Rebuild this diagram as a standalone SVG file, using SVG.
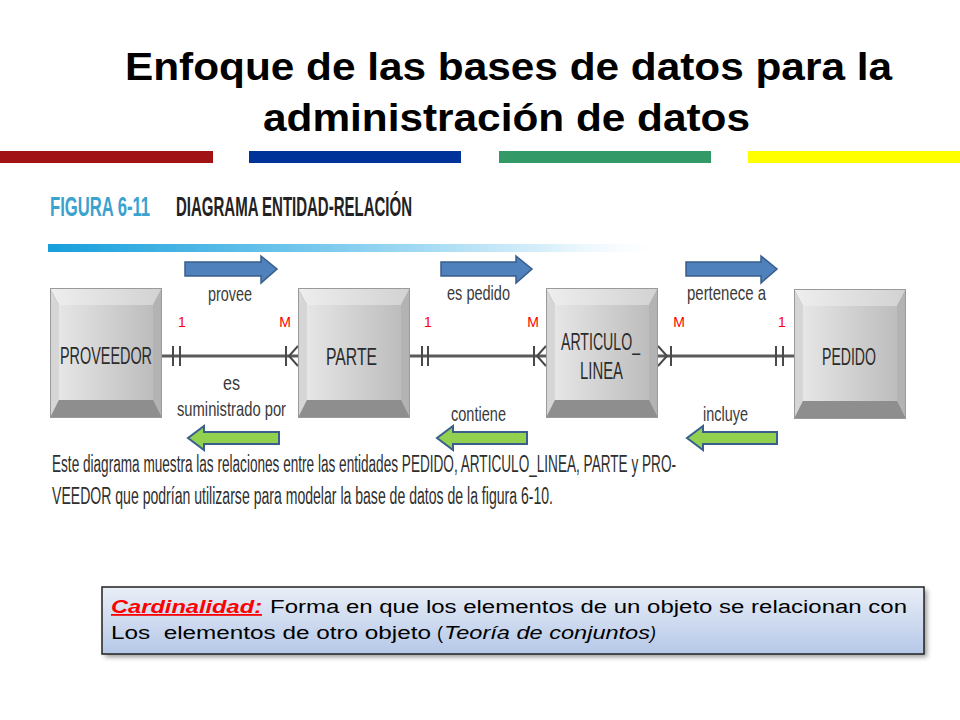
<svg xmlns="http://www.w3.org/2000/svg" xmlns:xlink="http://www.w3.org/1999/xlink" width="960" height="720" viewBox="0 0 960 720">
  <style>
    .title { font-family: "Liberation Sans", Arial, sans-serif; font-weight: bold; font-size: 39px; fill: #000; }
    .ent { font-family: "Liberation Sans", Arial, sans-serif; font-size: 23px; fill: #2b2b2b; }
    .rel { font-family: "Liberation Sans", Arial, sans-serif; font-size: 21px; fill: #3a3a3a; }
    .card { font-family: "Liberation Sans", Arial, sans-serif; font-size: 14px; fill: #ff0000; text-anchor: middle; }
    .cap { font-family: "Liberation Sans", Arial, sans-serif; font-size: 23px; fill: #2e2e2e; }
    .hdr { font-family: "Liberation Sans", Arial, sans-serif; font-weight: bold; font-size: 27px; }
    .box { font-family: "Liberation Sans", Arial, sans-serif; font-size: 18px; fill: #000; }
    .conn { stroke: #5a5a5a; stroke-width: 3; fill: none; }
    .tick { stroke: #4a4a4a; stroke-width: 2; fill: none; }
    .barrow { fill: #4f81bd; stroke: #385d8a; stroke-width: 1.5; }
    .garrow { fill: #92d050; stroke: #3a5f8e; stroke-width: 2; }
  </style>
  <defs>
    <linearGradient id="face" x1="0" y1="0" x2="1" y2="0">
      <stop offset="0" stop-color="#e6e6e6"/>
      <stop offset="1" stop-color="#bdbdbd"/>
    </linearGradient>
    <linearGradient id="topbev" x1="0" y1="0" x2="1" y2="0">
      <stop offset="0" stop-color="#eeeeee"/>
      <stop offset="1" stop-color="#d2d2d2"/>
    </linearGradient>
    <linearGradient id="cyanbar" x1="0" y1="0" x2="1" y2="0">
      <stop offset="0" stop-color="#169fdb"/>
      <stop offset="0.45" stop-color="#7ccbee"/>
      <stop offset="0.8" stop-color="#d9f0fa"/>
      <stop offset="1" stop-color="#ffffff" stop-opacity="0"/>
    </linearGradient>
    <linearGradient id="boxgrad" x1="0" y1="0" x2="0" y2="1">
      <stop offset="0" stop-color="#e9eef7"/>
      <stop offset="1" stop-color="#b5c8e8"/>
    </linearGradient>
    <filter id="shadow" x="-5%" y="-20%" width="110%" height="150%">
      <feGaussianBlur stdDeviation="2.5"/>
    </filter>
    <g id="ebox">
      <rect x="0" y="0" width="112" height="130" fill="#a8a8a8"/>
      <polygon points="0,0 112,0 103,17 9,17" fill="url(#topbev)"/>
      <polygon points="0,0 9,17 9,112 0,130" fill="#d6d6d6"/>
      <polygon points="112,0 112,130 103,112 103,17" fill="#b3b3b3"/>
      <polygon points="0,130 9,112 103,112 112,130" fill="#8e8e8e"/>
      <rect x="9" y="17" width="94" height="95" fill="url(#face)"/>
      <rect x="0.5" y="0.5" width="111" height="129" fill="none" stroke="#9a9a9a" stroke-width="1"/>
    </g>
  </defs>

  <rect width="960" height="720" fill="#ffffff"/>

  <!-- Title -->
  <g id="title">
    <text class="title" x="125" y="80" textLength="767" lengthAdjust="spacingAndGlyphs">Enfoque de las bases de datos para la</text>
    <text class="title" x="263" y="131" textLength="487" lengthAdjust="spacingAndGlyphs">administración de datos</text>
  </g>

  <!-- Colour bars -->
  <g id="colorbars">
    <rect x="0" y="151" width="213" height="12" fill="#a11214"/>
    <rect x="249" y="151" width="212" height="12" fill="#003399"/>
    <rect x="499" y="151" width="212" height="12" fill="#339966"/>
    <rect x="748" y="151" width="212" height="12" fill="#ffff00"/>
  </g>

  <!-- Figure header -->
  <g id="figheader">
    <text class="hdr" x="50" y="216" fill="#3aa2cf" textLength="100" lengthAdjust="spacingAndGlyphs">FIGURA 6-11</text>
    <text class="hdr" x="176" y="216" fill="#222222" textLength="236" lengthAdjust="spacingAndGlyphs">DIAGRAMA ENTIDAD-RELACIÓN</text>
    <rect x="48" y="244" width="625" height="8" fill="url(#cyanbar)"/>
  </g>

  <!-- Connectors -->
  <g id="connectors">
    <line class="conn" x1="162" y1="356" x2="298" y2="356"/>
    <line class="tick" x1="173" y1="346" x2="173" y2="366"/>
    <line class="tick" x1="180" y1="346" x2="180" y2="366"/>
    <line class="tick" x1="286" y1="346" x2="286" y2="366"/>
    <polyline class="tick" points="298,346 289,356 298,366"/>

    <line class="conn" x1="410" y1="356" x2="546" y2="356"/>
    <line class="tick" x1="422" y1="346" x2="422" y2="366"/>
    <line class="tick" x1="428" y1="346" x2="428" y2="366"/>
    <line class="tick" x1="534" y1="346" x2="534" y2="366"/>
    <polyline class="tick" points="546,346 537,356 546,366"/>

    <line class="conn" x1="658" y1="356" x2="794" y2="356"/>
    <polyline class="tick" points="658,346 667,356 658,366"/>
    <line class="tick" x1="671" y1="346" x2="671" y2="366"/>
    <line class="tick" x1="776" y1="346" x2="776" y2="366"/>
    <line class="tick" x1="783" y1="346" x2="783" y2="366"/>

    <text class="card" x="182" y="327">1</text>
    <text class="card" x="285" y="327">M</text>
    <text class="card" x="428" y="327">1</text>
    <text class="card" x="533" y="327">M</text>
    <text class="card" x="679" y="327">M</text>
    <text class="card" x="782" y="327">1</text>

    <text class="rel" x="208" y="301" textLength="44" lengthAdjust="spacingAndGlyphs">provee</text>
    <text class="rel" x="447" y="300" textLength="63" lengthAdjust="spacingAndGlyphs">es pedido</text>
    <text class="rel" x="687" y="300" textLength="79" lengthAdjust="spacingAndGlyphs">pertenece a</text>
    <text class="rel" x="223" y="390" textLength="17" lengthAdjust="spacingAndGlyphs">es</text>
    <text class="rel" x="177" y="416" textLength="109" lengthAdjust="spacingAndGlyphs">suministrado por</text>
    <text class="rel" x="451" y="421" textLength="55" lengthAdjust="spacingAndGlyphs">contiene</text>
    <text class="rel" x="703" y="421" textLength="45" lengthAdjust="spacingAndGlyphs">incluye</text>

    <polygon class="barrow" points="185,262 261,262 261,256 277,269 261,283 261,276 185,276"/>
    <polygon class="barrow" points="441,262 516,262 516,256 532,269 516,283 516,276 441,276"/>
    <polygon class="barrow" points="686,262 761,262 761,256 777,269 761,283 761,276 686,276"/>

    <polygon class="garrow" points="279,432 204,432 204,426 188,438 204,450 204,444 279,444"/>
    <polygon class="garrow" points="527,432 453,432 453,426 437,438 453,450 453,444 527,444"/>
    <polygon class="garrow" points="777,432 703,432 703,426 687,438 703,450 703,444 777,444"/>
  </g>

  <!-- Entities -->
  <g id="proveedor" transform="translate(50,288)">
    <use xlink:href="#ebox"/>
    <text class="ent" x="10" y="76" textLength="92" lengthAdjust="spacingAndGlyphs">PROVEEDOR</text>
  </g>
  <g id="parte" transform="translate(298,288)">
    <use xlink:href="#ebox"/>
    <text class="ent" x="28" y="77" textLength="51" lengthAdjust="spacingAndGlyphs">PARTE</text>
  </g>
  <g id="articulo_linea" transform="translate(546,288)">
    <use xlink:href="#ebox"/>
    <text class="ent" x="15" y="62" textLength="79" lengthAdjust="spacingAndGlyphs">ARTICULO_</text>
    <text class="ent" x="34" y="91" textLength="43" lengthAdjust="spacingAndGlyphs">LINEA</text>
  </g>
  <g id="pedido" transform="translate(794,289)">
    <use xlink:href="#ebox"/>
    <text class="ent" x="28" y="76" textLength="54" lengthAdjust="spacingAndGlyphs">PEDIDO</text>
  </g>

  <!-- Caption -->
  <g id="caption">
    <text class="cap" x="52" y="472" textLength="624" lengthAdjust="spacingAndGlyphs">Este diagrama muestra las relaciones entre las entidades PEDIDO, ARTICULO_LINEA, PARTE y PRO-</text>
    <text class="cap" x="52" y="504" textLength="501" lengthAdjust="spacingAndGlyphs">VEEDOR que podrían utilizarse para modelar la base de datos de la figura 6-10.</text>
  </g>

  <!-- Cardinalidad box -->
  <g id="cardinalidad">
    <rect x="105" y="590" width="822" height="67" fill="#555" opacity="0.6" filter="url(#shadow)"/>
    <rect x="102" y="587" width="822" height="67" fill="url(#boxgrad)" stroke="#222" stroke-width="1.5"/>
    <text class="box" x="111" y="613" font-weight="bold" font-style="italic" text-decoration="underline" textLength="151" lengthAdjust="spacingAndGlyphs" style="fill:#ff0000">Cardinalidad:</text>
    <text class="box" x="270" y="613" textLength="637" lengthAdjust="spacingAndGlyphs">Forma en que los elementos de un objeto se relacionan con</text>
    <text class="box" x="111" y="639" textLength="320" lengthAdjust="spacingAndGlyphs" xml:space="preserve">Los  elementos de otro objeto</text>
    <text class="box" x="437" y="639">(</text>
    <text class="box" x="444" y="639" font-style="italic" textLength="206" lengthAdjust="spacingAndGlyphs">Teoría de conjuntos</text>
    <text class="box" x="650" y="639" font-style="italic">)</text>
  </g>
</svg>
